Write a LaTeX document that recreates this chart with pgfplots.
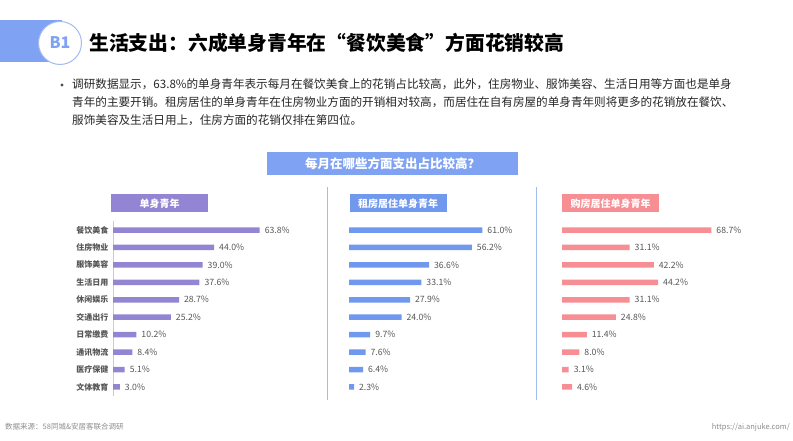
\documentclass[border=0pt]{standalone}
\usepackage{fontspec}
\setmainfont{Noto Sans CJK SC}
\usepackage{pgfplots}
\usepackage{pgfplotstable}
\pgfplotsset{compat=1.18}

\definecolor{hdrblue}{HTML}{7FA2F2}
\definecolor{lineblue}{HTML}{A3BAF3}
\definecolor{c_single}{HTML}{9385D3}
\definecolor{c_rent}{HTML}{6F98EE}
\definecolor{c_own}{HTML}{F78E93}
\definecolor{txtgray}{HTML}{555555}

% share of monthly spending, %
\pgfplotstableread{
idx single rent own
0 63.8 61.0 68.7
1 44.0 56.2 31.1
2 39.0 36.6 42.2
3 37.6 33.1 44.2
4 28.7 27.9 31.1
5 25.2 24.0 24.8
6 10.2 9.7 11.4
7 8.4 7.6 8.0
8 5.1 6.4 3.1
9 3.0 2.3 4.6
}\spend

\pgfplotsset{
  panel/.style={
    xbar, scale only axis,
    height=174.4pt,
    xmin=0, xmax=80,
    ymin=-0.5, ymax=9.5, y dir=reverse,
    bar width=5.5pt,
    hide x axis,
    /pgf/number format/assume math mode=true,
    nodes near coords={\pgfmathprintnumber[fixed,fixed zerofill,precision=1]{\pgfplotspointmeta}\%},
    every node near coord/.append style={font=\fontsize{8.7}{9}\selectfont, text=txtgray, xshift=1.5pt},
  },
}

\begin{document}
\begin{tikzpicture}
\begin{scope}[x=1pt,y=1pt]
\path[use as bounding box] (0,0) rectangle (793,441);

% header
\fill[hdrblue] (0,379) rectangle (62,421);
\draw[lineblue, line width=1pt, fill=white] (60,398) circle (21.5);
\node[text=hdrblue, font=\fontsize{16}{16}\selectfont\bfseries] at (60,398) {B1};
\node[anchor=west, inner sep=0, font=\fontsize{19.8}{20}\selectfont\bfseries] at (89,398)
  {生活支出：六成单身青年在“餐饮美食”方面花销较高};

% bullet text
\fill[black!70] (62,356) circle (1.6);
\begin{scope}[every node/.style={anchor=base west, inner sep=0, font=\fontsize{11.6}{12}\selectfont, text=black!85}]
\node at (72,352) {调研数据显示，63.8\%的单身青年表示每月在餐饮美食上的花销占比较高，此外，住房物业、服饰美容、生活日用等方面也是单身};
\node at (72,334.3) {青年的主要开销。租房居住的单身青年在住房物业方面的开销相对较高，而居住在自有房屋的单身青年则将更多的花销放在餐饮、};
\node at (72,316.6) {服饰美容及生活日用上，住房方面的花销仅排在第四位。};
\end{scope}

% chart title
\node[fill=hdrblue, minimum width=251pt, minimum height=23pt, inner sep=0, text=white,
  font=\fontsize{12.5}{13}\selectfont\bfseries] at (392.5,277.5) {每月在哪些方面支出占比较高？};

% dividers
\draw[lineblue, line width=0.8pt] (327,254) -- (327,41);
\draw[lineblue, line width=0.8pt] (536,254) -- (536,41);

% panel labels
\begin{scope}[every node/.style={minimum width=97pt, minimum height=18pt, inner sep=0, text=white,
  font=\fontsize{10}{10}\selectfont\bfseries}]
\node[fill=c_single] at (159.5,237.5) {单身青年};
\node[fill=c_rent] at (398,237.5) {租房居住单身青年};
\node[fill=c_own] at (610.5,237.5) {购房居住单身青年};
\end{scope}

% footer
\node[anchor=west, inner sep=0, font=\fontsize{7.5}{8}\selectfont, text=black!45] at (5,14) {数据来源：58同城\&安居客联合调研};
\node[anchor=east, inner sep=0, font=\fontsize{7.5}{8}\selectfont, text=black!45] at (790,14) {https://ai.anjuke.com/};
\end{scope}

% panel 1
\begin{axis}[panel, at={(113pt,219.7pt)}, anchor=north west, width=184pt,
  axis y line*=left, y axis line style={black!20},
  ytick={0,...,9}, major tick length=0pt,
  yticklabels={餐饮美食,住房物业,服饰美容,生活日用,休闲娱乐,交通出行,日常缴费,通讯物流,医疗保健,文体教育},
  yticklabel style={font=\fontsize{8}{8}\selectfont\bfseries, text=txtgray, xshift=-1pt}]
\addplot[fill=c_single, draw=none] table[x=single, y=idx] {\spend};
\end{axis}

% panel 2
\begin{axis}[panel, at={(349pt,219.7pt)}, anchor=north west, width=175pt, hide y axis]
\addplot[fill=c_rent, draw=none] table[x=rent, y=idx] {\spend};
\end{axis}

% panel 3
\begin{axis}[panel, at={(562pt,219.7pt)}, anchor=north west, width=174pt, hide y axis]
\addplot[fill=c_own, draw=none] table[x=own, y=idx] {\spend};
\end{axis}
\end{tikzpicture}
\end{document}
